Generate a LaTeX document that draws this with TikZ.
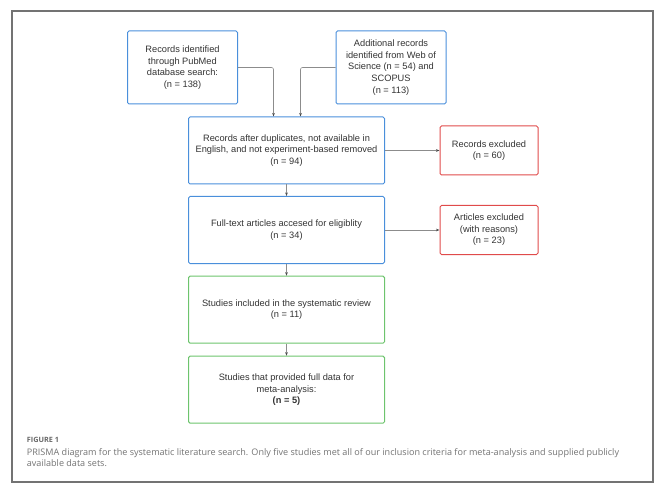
\documentclass[tikz,border=0pt]{standalone}
\usepackage{fontspec}
\setmainfont{Liberation Sans}
\newfontfamily\capfont{Open Sans}
\usepackage{tikz}
\usetikzlibrary{arrows.meta,shapes,positioning,calc}

\definecolor{boxblue}{HTML}{4A8FDB}
\definecolor{boxred}{HTML}{E04B4B}
\definecolor{boxgreen}{HTML}{6DC46D}
\definecolor{linegray}{HTML}{8C8C8C}
\definecolor{textgray}{HTML}{333333}

\begin{document}
\begin{tikzpicture}[x=1bp,y=-1bp,
	box/.style={draw,line width=1bp,rounded corners=1.5bp,align=center,inner sep=0pt,
		text=textgray,font=\fontsize{9.3}{11.6}\selectfont},
	bluebox/.style={box,draw=boxblue},
	redbox/.style={box,draw=boxred,minimum width=98bp,minimum height=49bp},
	greenbox/.style={box,draw=boxgreen,minimum width=196bp,minimum height=67bp},
	link/.style={draw=linegray,line width=0.6bp,-{Stealth[length=3.5bp,width=2.6bp,black!70]}}]
	\useasboundingbox (0,0) rectangle (668,492);
	\draw[black!55,line width=1.2bp] (12,11) rectangle (653,482);

	% identification
	\node[bluebox,minimum width=110bp,minimum height=73bp] at (182.5,67.5) (pubmed)
		{Records identified\\through PubMed\\database search:\\(n = 138)};
	\node[bluebox,minimum width=110bp,minimum height=73bp] at (391,67.5) (other)
		{Additional records\\identified from Web of\\Science (n = 54) and\\SCOPUS\\(n = 113)};

	% screening
	\node[bluebox,minimum width=196bp,minimum height=67bp] at (286.5,150.5) (screen)
		{Records after duplicates, not available in\\English, and not experiment-based removed\\(n = 94)};
	\node[redbox] at (489,150.5) (excl) {Records excluded\\(n = 60)};

	% eligibility
	\node[bluebox,minimum width=196bp,minimum height=67bp] at (286.5,230) (full)
		{Full-text articles accesed for eligiblity\\(n = 34)};
	\node[redbox] at (489,230) (artexcl) {Articles excluded\\(with reasons)\\(n = 23)};

	% included
	\node[greenbox] at (286.5,309.7) (review)
		{Studies included in the systematic review\\(n = 11)};
	\node[greenbox] at (286.5,389.7) (meta)
		{Studies that provided full data for\\meta-analysis:\\\textbf{(n = 5)}};

	\draw[link,rounded corners=2bp] (pubmed.east) -| ($(screen.north)+(-13,0)$);
	\draw[link,rounded corners=2bp] (other.west) -| ($(screen.north)+(14,0)$);
	\draw[link] (screen) -- (excl);
	\draw[link] (screen) -- (full);
	\draw[link] (full) -- (artexcl);
	\draw[link] (full) -- (review);
	\draw[link] (review) -- (meta);

	% caption
	\node[anchor=base west,inner sep=0pt,text=black!60,font=\capfont\fontsize{7.3}{9}\selectfont\bfseries]
		at (26.7,442.5) (figlabel) {FIGURE 1};
	\node[anchor=base west,inner sep=0pt,text=black!55,align=left,font=\capfont\fontsize{9.1}{11}\selectfont]
		at (26.7,466.5) (caption)
		{PRISMA diagram for the systematic literature search. Only five studies met all of our inclusion criteria for meta-analysis and supplied publicly\\available data sets.};
\end{tikzpicture}
\end{document}
